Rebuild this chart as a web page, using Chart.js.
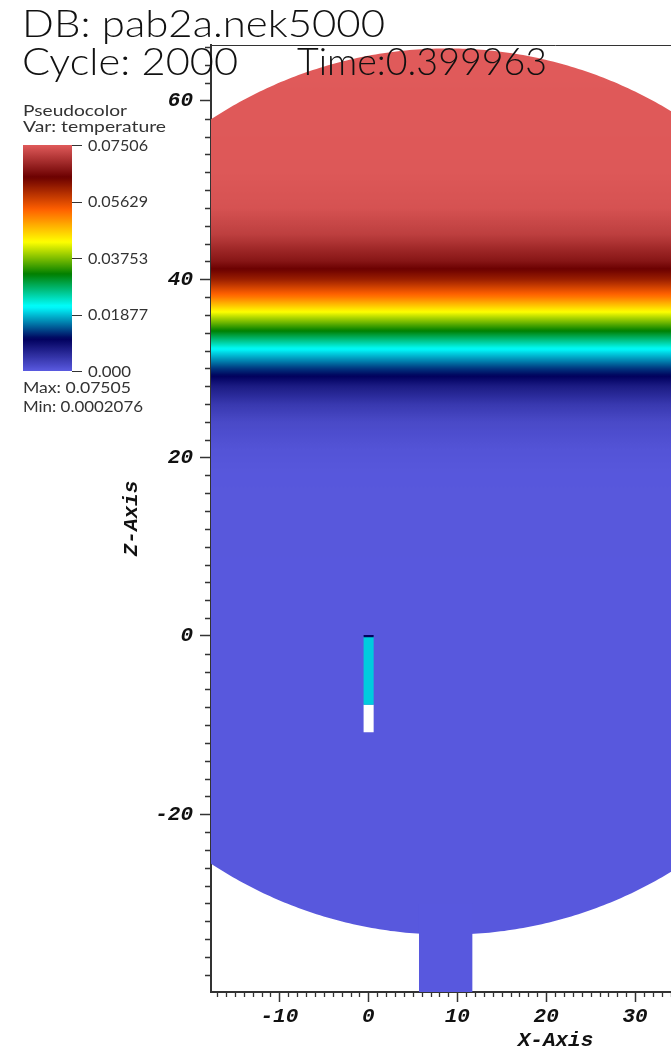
<!DOCTYPE html>
<html><head><meta charset="utf-8">
<script src="https://cdn.jsdelivr.net/npm/chart.js@4"></script>
<style>html,body{margin:0;padding:0;background:#fff;overflow:hidden;width:671px;height:1048px}canvas{display:block}</style>
</head><body>
<canvas id="c" width="900" height="1060"></canvas>
<script>
// ---------------- data ----------------
// vertical temperature profile inside the vessel (z in plot units, temperature)
const zLevels     = [66.3,   52,     48,     45,     42,     40,     38,     36,     34,     32,     30,     28,     26,     24,     21,     18,     -40];
const temperature = [0.0751, 0.0748, 0.0741, 0.0718, 0.0668, 0.0610, 0.0520, 0.0410, 0.0310, 0.0205, 0.0130, 0.0075, 0.0040, 0.0020, 0.0008, 0.0003, 0.0002];
// colour table (hot_desaturated)
const colorPos = [0, 1/7, 2/7, 3/7, 4/7, 5/7, 6/7, 1];
const colorR   = [90,  0,  0,   0, 255, 255, 107, 224];
const colorG   = [90,  0, 255, 127, 255, 96,  0,   90];
const colorB   = [224, 92, 255, 0,   0,  0,   0,   90];
const tempMin = 0.0, tempMax = 0.07506;
const legendLabels = ['0.07506', '0.05629', '0.03753', '0.01877', '0.000'];
const dataMax = '0.07505', dataMin = '0.0002076';
// axes
const xMajorTicks = [-10, 0, 10, 20, 30, 40, 50];
const yMajorTicks = [-20, 0, 20, 40, 60];
const xMinorStep = 1, yMinorStep = 2;
const xRange = [-17.69, 59.79], yRange = [-39.93, 66.28];
// geometry
const vesselCenter = [8.9, 16.2];
const vesselRadius = [49.0, 49.7];
const pipeX = [5.7, 11.7],  pipeZ = [-45, -30];
const probeX = [-0.53, 0.6];
const probeHeatedZ = [-7.7, 0], probeHeatedTemp = 0.0193;
const probeCapZ = [-0.15, 0.12], probeCapTemp = 0.0105;
const probeEmptyZ = [-10.8, -7.7];

// ---------------- helpers ----------------
function colormap(t){
  let f = (t - tempMin) / (tempMax - tempMin);
  f = Math.max(0, Math.min(1, f));
  let i = 0;
  while (i < colorPos.length - 2 && f > colorPos[i+1]) i++;
  const u = (f - colorPos[i]) / (colorPos[i+1] - colorPos[i]);
  const r = Math.round(colorR[i] + u*(colorR[i+1]-colorR[i]));
  const g = Math.round(colorG[i] + u*(colorG[i+1]-colorG[i]));
  const b = Math.round(colorB[i] + u*(colorB[i+1]-colorB[i]));
  return `rgb(${r},${g},${b})`;
}
function profileAt(z){
  if (z >= zLevels[0]) return temperature[0];
  for (let i = 0; i < zLevels.length - 1; i++){
    if (z <= zLevels[i] && z >= zLevels[i+1]){
      const u = (z - zLevels[i]) / (zLevels[i+1] - zLevels[i]);
      return temperature[i] + u*(temperature[i+1]-temperature[i]);
    }
  }
  return temperature[temperature.length-1];
}
function rect(x, z){
  return [{x:x[0],y:z[0]},{x:x[1],y:z[0]},{x:x[1],y:z[1]},{x:x[0],y:z[1]},{x:x[0],y:z[0]}];
}
function ellipse(c, r){
  const pts = [];
  for (let k = 0; k <= 720; k++){
    const a = k/720*2*Math.PI;
    pts.push({x: c[0] + r[0]*Math.cos(a), y: c[1] + r[1]*Math.sin(a)});
  }
  return pts;
}
function fieldGradient(context){
  const chart = context.chart;
  const {ctx, chartArea, scales} = chart;
  if (!chartArea || !scales.y) return colormap(temperature[0]);
  const top = chartArea.top, bottom = chartArea.bottom;
  const g = ctx.createLinearGradient(0, top, 0, bottom);
  const n = 500;
  for (let i = 0; i <= n; i++){
    const py = top + (bottom-top)*i/n;
    g.addColorStop(i/n, colormap(profileAt(scales.y.getValueForPixel(py))));
  }
  return g;
}
function fitText(ctx, text, x0, x1, baseline, font){
  ctx.save();
  ctx.font = font;
  ctx.textBaseline = 'alphabetic';
  ctx.textAlign = 'left';
  const w = ctx.measureText(text).width;
  ctx.translate(x0, baseline);
  ctx.scale((x1 - x0) / w, 1);
  ctx.fillText(text, 0, 0);
  ctx.restore();
}

const shapeDefaults = {type:'line', showLine:true, borderWidth:0, pointRadius:0, tension:0, fill:'shape'};

const overlay = {
  id: 'overlay',
  afterDraw(chart){
    const {ctx, chartArea, scales} = chart;
    const xs = scales.x, ys = scales.y;
    ctx.save();
    // top border
    ctx.strokeStyle = '#333'; ctx.lineWidth = 1;
    ctx.beginPath(); ctx.moveTo(chartArea.left, chartArea.top + 0.5); ctx.lineTo(chartArea.right, chartArea.top + 0.5); ctx.stroke();
    // minor ticks
    ctx.lineWidth = 1.3; ctx.strokeStyle = '#333';
    ctx.beginPath();
    for (let v = Math.ceil(xRange[0]); v <= xRange[1]; v += xMinorStep){
      if (xMajorTicks.includes(v)) continue;
      const px = Math.round(xs.getPixelForValue(v)) + 0.5;
      ctx.moveTo(px, chartArea.bottom); ctx.lineTo(px, chartArea.bottom + 5);
    }
    for (let v = Math.ceil(yRange[0]/yMinorStep)*yMinorStep; v <= yRange[1]; v += yMinorStep){
      if (yMajorTicks.includes(v)) continue;
      const py = Math.round(ys.getPixelForValue(v)) + 0.5;
      ctx.moveTo(chartArea.left, py); ctx.lineTo(chartArea.left - 6, py);
    }
    ctx.stroke();

    // colour bar legend
    const bx0 = 23, bx1 = 72, by0 = 145, by1 = 371;
    const g = ctx.createLinearGradient(0, by1, 0, by0);
    for (let i = 0; i <= 100; i++){
      g.addColorStop(i/100, colormap(tempMin + (tempMax-tempMin)*i/100));
    }
    ctx.fillStyle = g;
    ctx.fillRect(bx0, by0, bx1 - bx0, by1 - by0);
    ctx.strokeStyle = '#333'; ctx.lineWidth = 1;
    ctx.beginPath();
    legendLabels.forEach((lab, i) => {
      const py = Math.round(by0 + (by1-by0)*i/(legendLabels.length-1)) + 0.5;
      ctx.moveTo(bx1, py); ctx.lineTo(bx1 + 10, py);
    });
    ctx.stroke();
    ctx.fillStyle = '#333';
    const lf = '15px Lato, "DejaVu Sans", sans-serif';
    fitText(ctx, 'Pseudocolor', 23, 127, 116, lf);
    fitText(ctx, 'Var: temperature', 23, 166, 132, lf);
    legendLabels.forEach((lab, i) => {
      const py = by0 + (by1-by0)*i/(legendLabels.length-1);
      const wEnd = lab.length === 5 ? 131 : 148;
      fitText(ctx, lab, 88, wEnd, py + 5.5, lf);
    });
    fitText(ctx, 'Max: ' + dataMax, 23, 131, 393, lf);
    fitText(ctx, 'Min: ' + dataMin, 23, 143, 412, lf);

    // title texts
    ctx.fillStyle = '#111';
    const tf = '300 37px Lato, "DejaVu Sans", sans-serif';
    fitText(ctx, 'DB: pab2a.nek5000', 22, 385, 37, tf);
    fitText(ctx, 'Cycle: 2000', 22, 238, 75, tf);
    fitText(ctx, 'Time:0.399963', 297, 547, 75, tf);
    ctx.restore();
  }
};

const axisFont = {family:'"Liberation Mono", "Courier New", monospace', weight:'bold', style:'italic', size:21};

new Chart(document.getElementById('c').getContext('2d'), {
  type: 'line',
  data: {
    datasets: [
      Object.assign({}, shapeDefaults, {label:'probe cap', order:0, data: rect(probeX, probeCapZ), backgroundColor: colormap(probeCapTemp)}),
      Object.assign({}, shapeDefaults, {label:'probe heated', order:1, data: rect(probeX, probeHeatedZ), backgroundColor: colormap(probeHeatedTemp)}),
      Object.assign({}, shapeDefaults, {label:'probe empty', order:1, data: rect(probeX, probeEmptyZ), backgroundColor: '#ffffff'}),
      Object.assign({}, shapeDefaults, {label:'outlet pipe', order:3, data: rect(pipeX, pipeZ), backgroundColor: colormap(temperature[temperature.length-1])}),
      Object.assign({}, shapeDefaults, {label:'vessel', order:4, data: ellipse(vesselCenter, vesselRadius), backgroundColor: fieldGradient})
    ]
  },
  options: {
    responsive: false,
    animation: false,
    devicePixelRatio: 1,
    layout: {padding: {top: 45, left: 0, right: 0, bottom: 0}},
    plugins: {legend: {display: false}, tooltip: {enabled: false}},
    scales: {
      x: {
        type: 'linear', min: xRange[0], max: xRange[1],
        afterFit(s){ s.height = 68; },
        afterBuildTicks(s){ s.ticks = xMajorTicks.map(v => ({value: v})); },
        grid: {display: true, drawOnChartArea: false, drawTicks: true, tickLength: 10, tickColor: '#333', tickWidth: 1.5},
        border: {display: true, color: '#333', width: 2},
        ticks: {padding: 2, color: '#111', font: axisFont, maxRotation: 0, autoSkip: false, callback: v => String(v)},
        title: {display: true, text: 'X-Axis', color: '#111', font: axisFont, padding: {top: 0, bottom: 7}}
      },
      y: {
        type: 'linear', min: yRange[0], max: yRange[1],
        afterFit(s){ s.width = 211; },
        afterBuildTicks(s){ s.ticks = yMajorTicks.map(v => ({value: v})); },
        grid: {display: true, drawOnChartArea: false, drawTicks: true, tickLength: 11, tickColor: '#333', tickWidth: 1.5},
        border: {display: true, color: '#333', width: 2},
        ticks: {padding: 7, color: '#111', font: axisFont, autoSkip: false, callback: v => String(v)},
        title: {display: true, text: 'Z-Axis', color: '#111', font: axisFont, padding: {top: 119, bottom: 0}}
      }
    }
  },
  plugins: [overlay]
});
</script>
</body></html>
